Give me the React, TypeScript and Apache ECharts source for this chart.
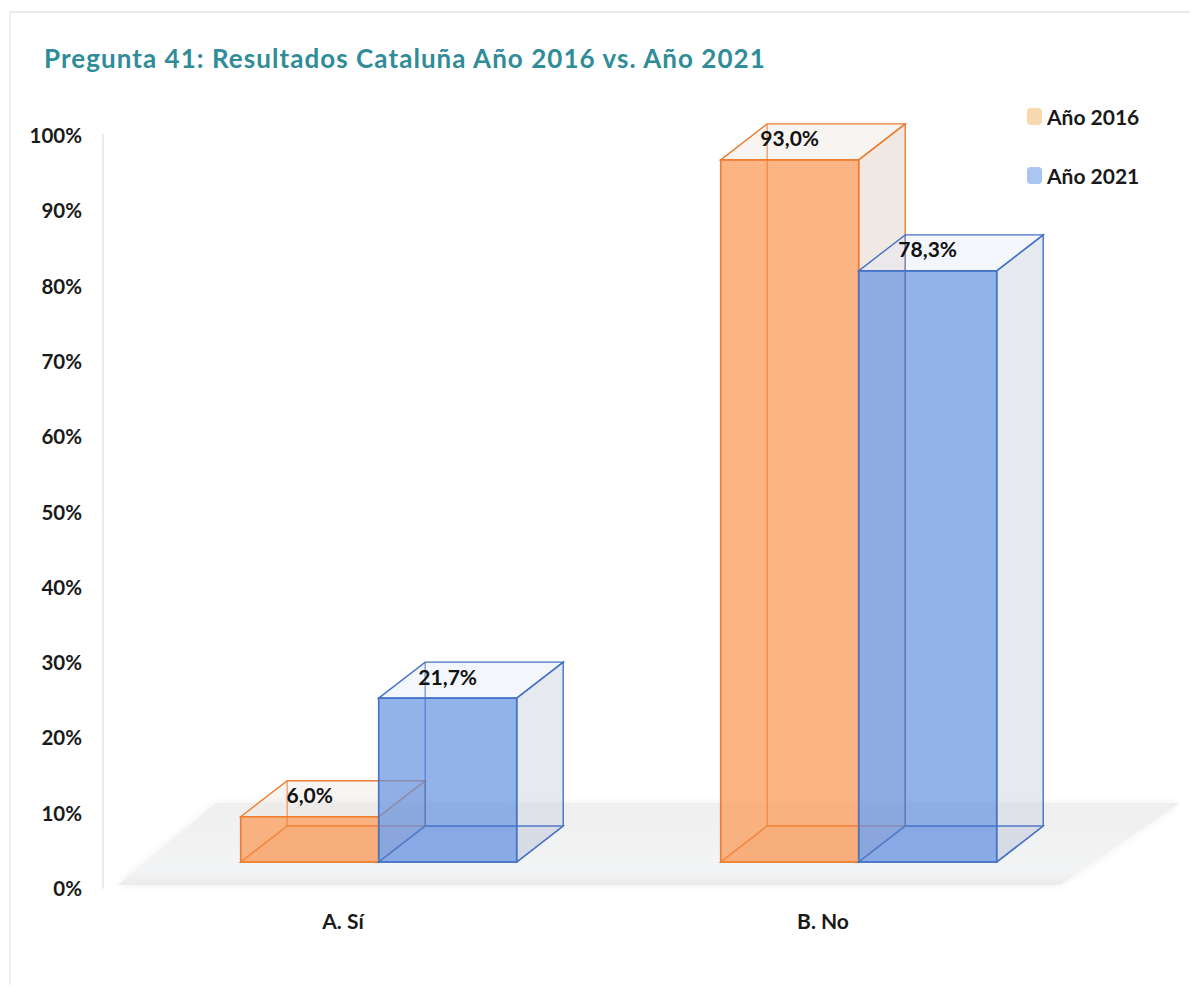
import React, { useEffect, useRef } from "react";
import * as echarts from "echarts";

const categories = ["A. Sí", "B. No"];
const seriesNames = ["Año 2016", "Año 2021"];
const values2016 = [6.0, 93.0];
const values2021 = [21.7, 78.3];
const yTicks = [0, 10, 20, 30, 40, 50, 60, 70, 80, 90, 100];
const titleText = "Pregunta 41: Resultados Cataluña Año 2016 vs. Año 2021";

const FONT = "Lato";
const TITLE_COLOR = "#2F8C98";
const DEPTH_X = 46.5;
const DEPTH_Y = 36;

function fmt(v: number) {
  return v.toFixed(1).replace(".", ",") + "%";
}

function makeRender(
  offsetBars: number,
  stroke: string,
  front: string,
  side: string,
  top: string
) {
  return (params: any, api: any) => {
    const cat = api.value(0);
    const val = api.value(1);
    const pTop = api.coord([cat, val]);
    const pBase = api.coord([cat, 0]);
    const band = api.size([1, 0])[0];
    const w = band * 0.2875;
    const x0 = pTop[0] + offsetBars * w;
    const x1 = x0 + w;
    const yT = pTop[1];
    const yB = pBase[1];
    const dx = DEPTH_X;
    const dy = DEPTH_Y;
    const line = { stroke, lineWidth: 1.5, fill: "none", opacity: 0.65 };
    return {
      type: "group",
      children: [
        {
          type: "polygon",
          shape: { points: [[x0, yB], [x1, yB], [x1 + dx, yB - dy], [x0 + dx, yB - dy]] },
          style: { fill: side, stroke, lineWidth: 1.4 },
        },
        {
          type: "polygon",
          shape: { points: [[x1, yT], [x1 + dx, yT - dy], [x1 + dx, yB - dy], [x1, yB]] },
          style: { fill: side, stroke, lineWidth: 1.4 },
        },
        {
          type: "polygon",
          shape: { points: [[x0, yT], [x1, yT], [x1 + dx, yT - dy], [x0 + dx, yT - dy]] },
          style: { fill: top, stroke, lineWidth: 1.4 },
        },
        {
          type: "rect",
          shape: { x: x0, y: yT, width: w, height: yB - yT },
          style: { fill: front, stroke, lineWidth: 1.6 },
        },
        {
          type: "line",
          shape: { x1: x0 + dx, y1: yT - dy, x2: x0 + dx, y2: yB - dy },
          style: line,
        },
        {
          type: "line",
          shape: { x1: x0 + dx, y1: yB - dy, x2: x1 + dx, y2: yB - dy },
          style: line,
        },
        {
          type: "line",
          shape: { x1: x0, y1: yB, x2: x0 + dx, y2: yB - dy },
          style: line,
        },
        {
          type: "text",
          x: x0 + w / 2,
          y: yT - 22,
          z2: 50,
          style: {
            text: fmt(val),
            fill: "#111111",
            font: `bold 21px ${FONT}`,
            align: "center",
            verticalAlign: "middle",
          },
        },
      ],
    };
  };
}

export default function App() {
  const ref = useRef<HTMLDivElement>(null);
  useEffect(() => {
    document.body.style.margin = "0";
    const chart = echarts.init(ref.current!, null, { renderer: "svg" });
    chart.setOption({
      animation: false,
      backgroundColor: "#ffffff",
      title: {
        text: titleText,
        left: 39,
        top: 40,
        textStyle: { color: TITLE_COLOR, fontFamily: FONT, fontWeight: "bold", fontSize: 26 },
      },
      legend: {
        orient: "vertical",
        left: 1022,
        top: 101,
        itemWidth: 15,
        itemHeight: 17,
        itemGap: 38,
        icon: "roundRect",
        textStyle: { color: "#1a1a1a", fontFamily: FONT, fontWeight: "bold", fontSize: 21 },
        data: [
          { name: seriesNames[0], itemStyle: { color: "#F8D8AE", borderWidth: 0 } },
          { name: seriesNames[1], itemStyle: { color: "#A9C6F2", borderWidth: 0 } },
        ],
      },
      grid: [
        { left: 103, top: 135, width: 960, height: 753 },
        { left: 138.7, top: 107, width: 960, height: 755 },
      ],
      xAxis: [
        {
          type: "category",
          gridIndex: 0,
          data: categories,
          axisLine: { show: false },
          axisTick: { show: false },
          axisLabel: { color: "#1a1a1a", fontFamily: FONT, fontWeight: "bold", fontSize: 21, margin: 22 },
        },
        { type: "category", gridIndex: 1, data: categories, show: false },
      ],
      yAxis: [
        {
          type: "value",
          gridIndex: 0,
          min: 0,
          max: 100,
          interval: 10,
          axisLine: { show: true, lineStyle: { color: "#eaeaea", width: 2 } },
          axisTick: { show: false },
          splitLine: { show: false },
          axisLabel: {
            color: "#1a1a1a",
            fontFamily: FONT,
            fontWeight: "bold",
            fontSize: 20.5,
            margin: 21,
            formatter: (v: number) => (yTicks.includes(v) ? `${v}%` : ""),
          },
        },
        { type: "value", gridIndex: 1, min: 0, max: 100, show: false },
      ],
      graphic: [
        {
          type: "line",
          z: 0,
          silent: true,
          shape: { x1: 9, y1: 12, x2: 1190, y2: 12 },
          style: { stroke: "#ebebeb", lineWidth: 2 },
        },
        {
          type: "line",
          z: 0,
          silent: true,
          shape: { x1: 10, y1: 12, x2: 10, y2: 985 },
          style: { stroke: "#f0f0f0", lineWidth: 2 },
        },
        {
          type: "polygon",
          z: 1,
          silent: true,
          shape: { points: [[216, 803], [1180, 803], [1060, 885], [118, 885]] },
          style: {
            fill: new echarts.graphic.LinearGradient(0, 0, 0, 1, [
              { offset: 0, color: "#efefef" },
              { offset: 0.85, color: "#f3f4f5" },
              { offset: 1, color: "#eaeaea" },
            ]),
            shadowBlur: 8,
            shadowColor: "#efefef",
          },
        },
      ],
      series: [
        {
          name: seriesNames[0],
          type: "custom",
          xAxisIndex: 1,
          yAxisIndex: 1,
          z: 5,
          renderItem: makeRender(-1, "#ED7D31", "rgba(250,161,99,0.8)", "rgba(222,205,192,0.45)", "rgba(235,228,222,0.4)"),
          encode: { x: 0, y: 1 },
          data: categories.map((_, i) => [i, values2016[i]]),
        },
        {
          name: seriesNames[1],
          type: "custom",
          xAxisIndex: 1,
          yAxisIndex: 1,
          z: 6,
          renderItem: makeRender(0, "#4472C4", "rgba(100,146,225,0.7)", "rgba(205,212,226,0.5)", "rgba(225,232,245,0.4)"),
          encode: { x: 0, y: 1 },
          data: categories.map((_, i) => [i, values2021[i]]),
        },
      ],
    });
    return () => chart.dispose();
  }, []);
  return (
    <>
      <style>{`svg text[fill="${TITLE_COLOR}"] { letter-spacing: 1.05px; }`}</style>
      <div ref={ref} style={{ width: 1200, height: 998 }} />
    </>
  );
}
